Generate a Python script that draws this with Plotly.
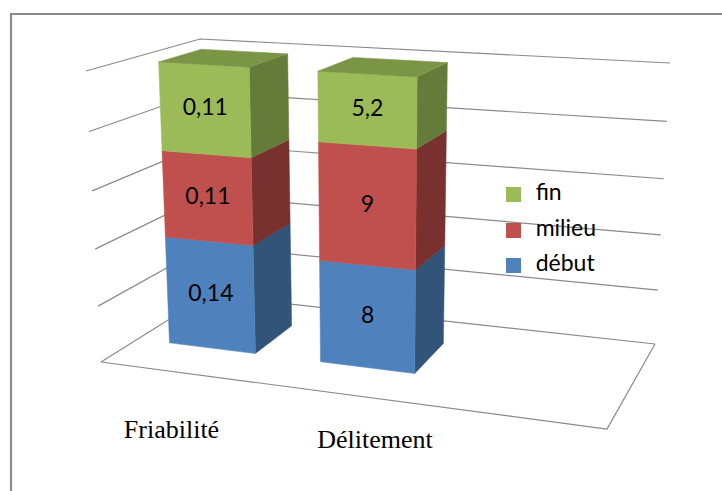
import plotly.graph_objects as go

# Chart data: 100 % stacked columns
categories = ["Friabilité", "Délitement"]
series_names = ["début", "milieu", "fin"]
debut = [0.14, 8]
milieu = [0.11, 9]
fin = [0.11, 5.2]
gridline_levels = [0, 0.2, 0.4, 0.6, 0.8, 1]

front_colors = ["#4F81BD", "#C0504D", "#9BBB59"]
side_colors = ["#325479", "#78312F", "#657B3A"]
top_color = "#7B9547"
grid_color = "#8A8A8A"

# Corners of the 3D plot box on the page: (width, depth) -> (px, py)
floor = {(0, 0): (101, 362), (1, 0): (607, 429), (0, 1): (208, 295), (1, 1): (655, 344)}
ceil = {(0, 0): (86, 71), (1, 0): (620, 104), (0, 1): (200, 39), (1, 1): (670, 63)}

# Column footprints in box coordinates
slots = [(0.065, 0.242), (0.376, 0.57)]
depth = (0.345, 0.735)


def bilinear(c, a, v):
    fx = c[(0, 0)][0] + (c[(1, 0)][0] - c[(0, 0)][0]) * a
    fy = c[(0, 0)][1] + (c[(1, 0)][1] - c[(0, 0)][1]) * a
    bx = c[(0, 1)][0] + (c[(1, 1)][0] - c[(0, 1)][0]) * a
    by = c[(0, 1)][1] + (c[(1, 1)][1] - c[(0, 1)][1]) * a
    return fx + (bx - fx) * v, fy + (by - fy) * v


def project(a, v, z):
    # Slight vertical foreshortening of the perspective view
    zp = z - 0.05 * z * (1 - z)
    x0, y0 = bilinear(floor, a, v)
    x1, y1 = bilinear(ceil, a, v)
    return x0 + (x1 - x0) * zp, y0 + (y1 - y0) * zp


fig = go.Figure()


def polyline(points, color, width):
    fig.add_trace(go.Scatter(
        x=[p[0] for p in points], y=[p[1] for p in points], mode="lines",
        line=dict(color=color, width=width), hoverinfo="skip", showlegend=False,
    ))


def face(corners, color):
    pts = [project(*c) for c in corners]
    pts.append(pts[0])
    fig.add_trace(go.Scatter(
        x=[p[0] for p in pts], y=[p[1] for p in pts], mode="lines", fill="toself",
        fillcolor=color, line=dict(color=color, width=0.5),
        hoverinfo="skip", showlegend=False,
    ))


# Walls and floor
for z in gridline_levels:
    polyline([project(0, 0, z), project(0, 1, z), project(1, 1, z)], grid_color, 1.2)
polyline([project(0, 0, 0), project(1, 0, 0), project(1, 1, 0)], grid_color, 1.2)

# Stacked columns
label_x, label_y, label_text = [], [], []
for i, (a0, a1) in enumerate(slots):
    values = [debut[i], milieu[i], fin[i]]
    total = sum(values)
    v0, v1 = depth
    base = 0
    for k, val in enumerate(values):
        z0, z1 = base / total, (base + val) / total
        base += val
        face([(a1, v0, z0), (a1, v1, z0), (a1, v1, z1), (a1, v0, z1)], side_colors[k])
        face([(a0, v0, z0), (a1, v0, z0), (a1, v0, z1), (a0, v0, z1)], front_colors[k])
        lx, ly = project((a0 + a1) / 2, v0, (z0 + z1) / 2)
        label_x.append(lx)
        label_y.append(ly)
        label_text.append(str(val).replace(".", ","))
    face([(a0, v0, 1), (a1, v0, 1), (a1, v1, 1), (a0, v1, 1)], top_color)

# Value labels
fig.add_trace(go.Scatter(
    x=label_x, y=label_y, text=label_text, mode="text", textposition="middle center",
    textfont=dict(family="Lato", size=23, color="#000000"),
    hoverinfo="skip", showlegend=False,
))

# Category labels
fig.add_trace(go.Scatter(
    x=[171.5, 375], y=[431, 441], text=categories, mode="text", textposition="middle center",
    textfont=dict(family="Liberation Serif", size=26, color="#000000"),
    hoverinfo="skip", showlegend=False,
))

# Legend, top entry is the last series
legend_y = [265.5, 230.5, 194.5]
fig.add_trace(go.Scatter(
    x=[513.5] * 3, y=legend_y, mode="markers+text", text=["  " + s for s in series_names],
    textposition="middle right",
    marker=dict(symbol="square", size=15, color=front_colors, line=dict(width=0)),
    textfont=dict(family="Lato", size=23, color="#000000"),
    hoverinfo="skip", showlegend=False,
))

fig.update_layout(
    width=722, height=491, margin=dict(l=0, r=0, t=0, b=0),
    paper_bgcolor="#FFFFFF", plot_bgcolor="#FFFFFF", showlegend=False,
    xaxis=dict(range=[0, 722], visible=False, fixedrange=True),
    yaxis=dict(range=[491, 0], visible=False, fixedrange=True),
    # Outer chart border
    shapes=[dict(type="path", path="M 11 491 L 11 14 L 722 14",
                 line=dict(color="#8C8C8C", width=2.2), layer="below")],
)

fig.write_html("out.html", config={"displayModeBar": False})
